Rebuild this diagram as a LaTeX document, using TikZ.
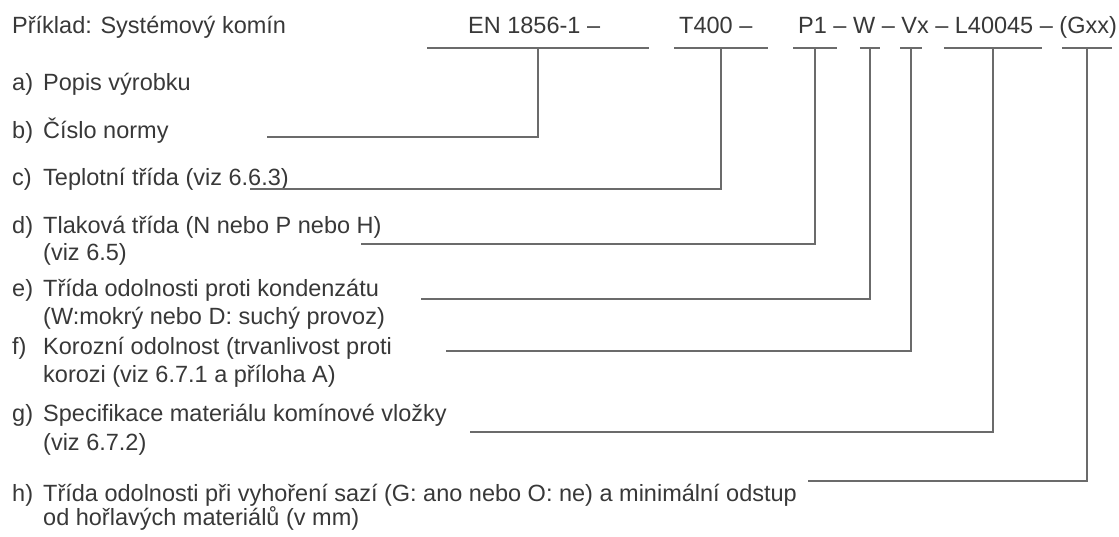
\documentclass[tikz,border=0pt]{standalone}
\usepackage{fontspec}
\setmainfont{Liberation Sans}
\usepackage{tikz}

\begin{document}
\begin{tikzpicture}[x=1pt,y=-1pt,
txt/.style={anchor=base west,inner sep=0pt,text=black!78,font=\fontsize{23.5}{28}\selectfont},
ln/.style={draw=black!58,line width=1.4pt},
bar/.style={inner sep=0pt,minimum height=0pt,minimum width=#1}]
\useasboundingbox (0,0) rectangle (1119,536);
\node[txt] (title) at (12,33) {Příklad: Systémový komín};
\node[txt] (cEN) at (468,33) {EN 1856-1 –};
\node[txt] (cT) at (679,33) {T400 –};
\node[txt] (cP) at (798,33) {P1 – W – Vx – L40045 – (Gxx)};
\foreach \n/\y/\1 in %
{a/90/{Popis výrobku},b/138/{Číslo normy},c/185/{Teplotní třída (viz 6.6.3)},%
d/233/{Tlaková třída (N nebo P nebo H)},e/296/{Třída odolnosti proti kondenzátu},%
f/354/{Korozní odolnost (trvanlivost proti},g/421/{Specifikace materiálu komínové vložky},%
h/501/{Třída odolnosti při vyhoření sazí (G: ano nebo O: ne) a minimální odstup}} {
   \node[txt] (l\n) at (12,\y) {\n)};
   \node[txt] (t\n) at (43,\y) {\1};
}
\foreach \n/\y/\2 in %
{d/260/{(viz 6.5)},e/324/{(W:mokrý nebo D: suchý provoz)},%
f/382/{korozi (viz 6.7.1 a příloha A)},g/450/{(viz 6.7.2)},%
h/525/{od hořlavých materiálů (v mm)}} {
   \node[txt] (r\n) at (43,\y) {\2};
}
\foreach \n/\v/\w/\y/\s in %
{b/538/221/137/267,c/721/93/189/250,d/815/43/244/361,e/870/20/299/421,%
f/911/21/351/446,g/993/98/432/470,h/1087/50/481/808} {
   \node[bar=\w] (u\n) at (\v,48) {};
   \coordinate (s\n) at (\s,\y);
   \draw[ln] (u\n.west) -- (u\n.east);
   \draw[ln] (u\n.center) |- (s\n);
}
\end{tikzpicture}
\end{document}
